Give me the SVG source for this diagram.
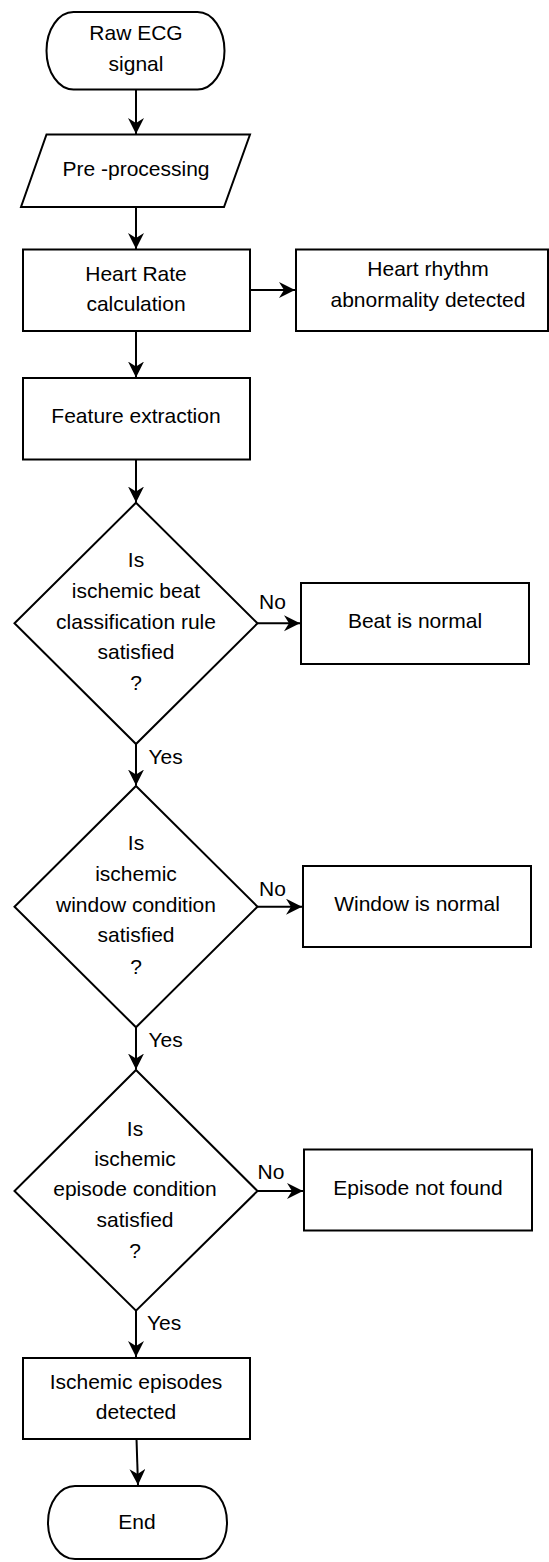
<svg xmlns="http://www.w3.org/2000/svg" width="549" height="1562" viewBox="0 0 549 1562">
<style>
.s{fill:#fff;stroke:#000;stroke-width:2}
.t{font-family:"Liberation Sans",Arial,sans-serif;font-size:21px;fill:#000;text-anchor:middle}
.l{font-family:"Liberation Sans",Arial,sans-serif;font-size:21px;fill:#000}
.c{fill:none;stroke:#000;stroke-width:2;marker-end:url(#a)}
</style>
<defs>
<marker id="a" markerUnits="userSpaceOnUse" markerWidth="18" markerHeight="18" refX="16" refY="8" orient="auto">
<path d="M0,0 L16,8 L0,16 L5,8 z" fill="#000"/>
</marker>
</defs>
<rect width="549" height="1562" fill="#fff"/>
<g id="connectors">
<path class="c" d="M136,89.5 L136,134"/>
<path class="c" d="M136,207 L136,249"/>
<path class="c" d="M250,290 L295,290"/>
<path class="c" d="M136,331 L136,377.5"/>
<path class="c" d="M136,459.5 L136,502.5"/>
<path class="c" d="M257.5,623.3 L300,623.3"/>
<path class="c" d="M136,744 L136,785.5"/>
<path class="c" d="M257.5,906.7 L302,906.7"/>
<path class="c" d="M136,1027.3 L136,1069.5"/>
<path class="c" d="M257.5,1191 L303,1191"/>
<path class="c" d="M136,1310.7 L136,1357"/>
<path class="c" d="M136.5,1439 L138,1485"/>
<text class="l" x="259" y="609">No</text>
<text class="l" x="148.5" y="763.5">Yes</text>
<text class="l" x="259" y="895.5">No</text>
<text class="l" x="148.5" y="1046.5">Yes</text>
<text class="l" x="257.5" y="1178.5">No</text>
<text class="l" x="147" y="1330">Yes</text>
</g>
<g id="start">
<rect class="s" x="46.5" y="12" width="178" height="77.5" rx="27" ry="38.75"/>
<text class="t" x="136" y="39.5">Raw ECG</text>
<text class="t" x="136" y="70.5">signal</text>
</g>
<g id="preprocessing">
<polygon class="s" points="46.5,134.5 250,134.5 224,207 21,207"/>
<text class="t" x="136" y="175.5">Pre -processing</text>
</g>
<g id="heart-rate">
<rect class="s" x="23" y="249.5" width="227" height="81.5"/>
<text class="t" x="136" y="280.5">Heart Rate</text>
<text class="t" x="136" y="310.5">calculation</text>
</g>
<g id="rhythm">
<rect class="s" x="296" y="249.5" width="252" height="81.5"/>
<text class="t" x="428" y="275.5">Heart rhythm</text>
<text class="t" x="428" y="307">abnormality detected</text>
</g>
<g id="feature">
<rect class="s" x="23" y="378" width="227" height="81.5"/>
<text class="t" x="136" y="423">Feature extraction</text>
</g>
<g id="decision-beat">
<polygon class="s" points="136,502.7 257.5,623.3 136,744 14.5,623.3"/>
<text class="t" x="136" y="567">Is</text>
<text class="t" x="136" y="597.5">ischemic beat</text>
<text class="t" x="136" y="628.5">classification rule</text>
<text class="t" x="136" y="658.5">satisfied</text>
<text class="t" x="136" y="689.5">?</text>
</g>
<g id="beat-normal">
<rect class="s" x="301" y="583" width="228" height="81"/>
<text class="t" x="415" y="628">Beat is normal</text>
</g>
<g id="decision-window">
<polygon class="s" points="136,786 257.5,906.7 136,1027.3 14.5,906.7"/>
<text class="t" x="136" y="850">Is</text>
<text class="t" x="136" y="881">ischemic</text>
<text class="t" x="136" y="912">window condition</text>
<text class="t" x="136" y="942">satisfied</text>
<text class="t" x="136" y="973.5">?</text>
</g>
<g id="window-normal">
<rect class="s" x="303" y="866" width="228" height="81"/>
<text class="t" x="417" y="910.5">Window is normal</text>
</g>
<g id="decision-episode">
<polygon class="s" points="136,1070 257.5,1191 136,1310.7 14.5,1191"/>
<text class="t" x="135" y="1135.5">Is</text>
<text class="t" x="135" y="1165.5">ischemic</text>
<text class="t" x="135" y="1195.5">episode condition</text>
<text class="t" x="135" y="1226.5">satisfied</text>
<text class="t" x="135" y="1257.5">?</text>
</g>
<g id="episode-not-found">
<rect class="s" x="304" y="1149.5" width="228" height="81"/>
<text class="t" x="418" y="1195">Episode not found</text>
</g>
<g id="episodes-detected">
<rect class="s" x="23" y="1358" width="227" height="81"/>
<text class="t" x="136" y="1389">Ischemic episodes</text>
<text class="t" x="136" y="1419">detected</text>
</g>
<g id="end">
<rect class="s" x="48" y="1486" width="179" height="73" rx="27" ry="36.5"/>
<text class="t" x="137" y="1529">End</text>
</g>
</svg>
